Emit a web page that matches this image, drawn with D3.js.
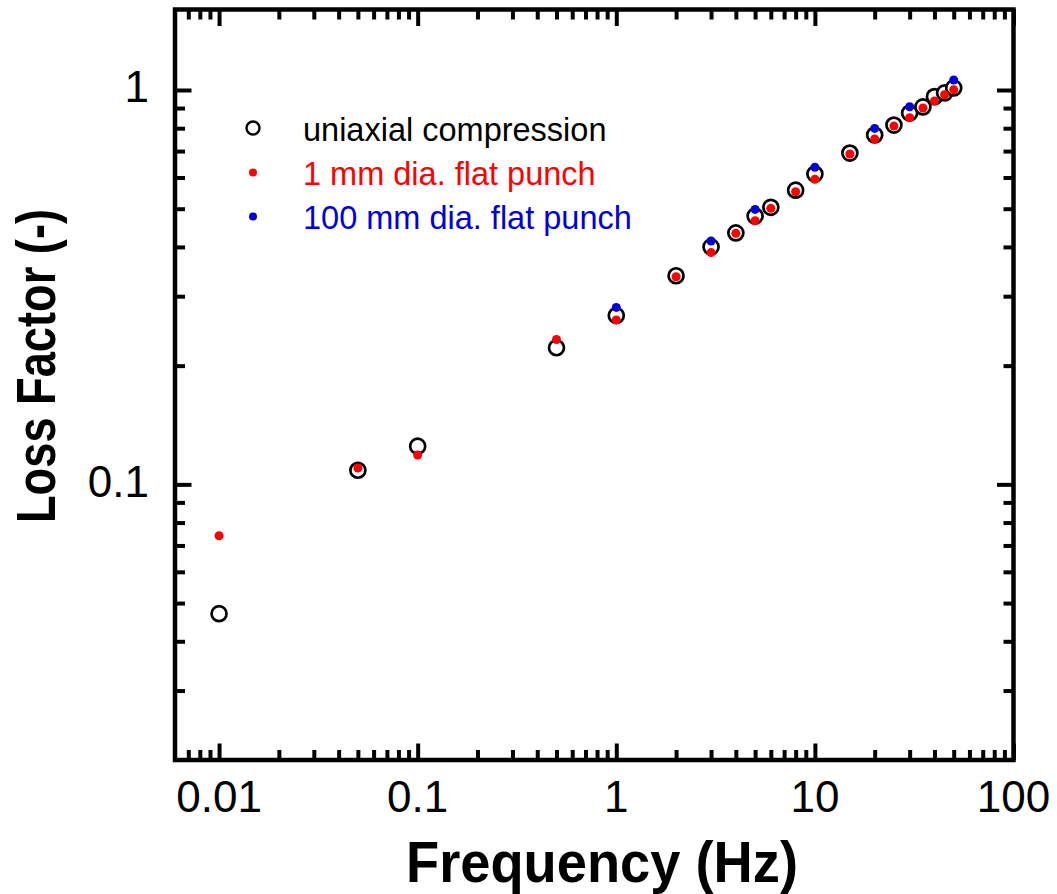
<!DOCTYPE html>
<html><head><meta charset="utf-8">
<script src="https://cdn.jsdelivr.net/npm/d3@7"></script>
<style>
body{margin:0;background:#fff}
svg{display:block}
text{font-family:"Liberation Sans",Arial,Helvetica,sans-serif}
</style>
</head><body>
<svg id="c" width="1057" height="894"></svg>
<script>
// ---- data ----
const freq      = [0.01,0.05,0.1,0.5,1,2,3,4,5,6,8,10,15,20,25,30,35,40,45,50];
const uniaxial  = [0.0470,0.1086,0.125,0.222,0.268,0.338,0.400,0.434,0.479,0.504,0.557,0.612,0.692,0.769,0.815,0.874,0.906,0.962,0.983,1.012];
const punch1mm  = [0.0741,0.110,0.1187,0.233,0.261,0.336,0.387,0.433,0.466,0.501,0.552,0.594,0.688,0.751,0.810,0.851,0.900,0.938,0.973,1.002];
const freqBlue  = [1,3,5,10,20,30,50];
const punch100mm= [0.281,0.414,0.498,0.637,0.799,0.907,1.06];
const xMajor = [0.01,0.1,1,10,100];
const xMajorLabels = ["0.01","0.1","1","10","100"];
const yMajor = [0.1,1];
const yMajorLabels = ["0.1","1"];
const seriesNames = ["uniaxial compression","1 mm dia. flat punch","100 mm dia. flat punch"];
const xTitle = "Frequency (Hz)";
const yTitle = "Loss Factor (-)";

// ---- layout ----
const L=175, R=1013.5, T=9.5, B=760;
const svg = d3.select("#c");
const x = d3.scaleLog().domain([0.006,100]).range([L,R]);
const y = d3.scaleLog().domain([0.02,1.6]).range([B,T]);

const isMajor = (arr)=> v => arr.some(m=>Math.abs(Math.log10(m)-Math.log10(v))<1e-6);
const xMinor = x.ticks().filter(v=>!isMajor(xMajor)(v) && v>0.0061 && v<99);
const yMinor = y.ticks().filter(v=>!isMajor(yMajor)(v) && v>0.021 && v<1.59);

function styleAxis(g){
  g.select(".domain").remove();
  g.selectAll(".tick line").attr("stroke","#000").attr("stroke-width",4);
}
const MJ=16.5, MN=10;
svg.append("g").attr("transform",`translate(0,${B})`).call(d3.axisBottom(x).tickValues(xMajor).tickSize(-MJ).tickFormat("")).call(styleAxis);
svg.append("g").attr("transform",`translate(0,${B})`).call(d3.axisBottom(x).tickValues(xMinor).tickSize(-MN).tickFormat("")).call(styleAxis);
svg.append("g").attr("transform",`translate(0,${T})`).call(d3.axisTop(x).tickValues(xMajor).tickSize(-MJ).tickFormat("")).call(styleAxis);
svg.append("g").attr("transform",`translate(0,${T})`).call(d3.axisTop(x).tickValues(xMinor).tickSize(-MN).tickFormat("")).call(styleAxis);
svg.append("g").attr("transform",`translate(${L},0)`).call(d3.axisLeft(y).tickValues(yMajor).tickSize(-MJ).tickFormat("")).call(styleAxis);
svg.append("g").attr("transform",`translate(${L},0)`).call(d3.axisLeft(y).tickValues(yMinor).tickSize(-MN).tickFormat("")).call(styleAxis);
svg.append("g").attr("transform",`translate(${R},0)`).call(d3.axisRight(y).tickValues(yMajor).tickSize(-MJ).tickFormat("")).call(styleAxis);
svg.append("g").attr("transform",`translate(${R},0)`).call(d3.axisRight(y).tickValues(yMinor).tickSize(-MN).tickFormat("")).call(styleAxis);

// tick labels
svg.append("g").selectAll("text").data(xMajor).join("text")
  .attr("x",d=>x(d)).attr("y",812).attr("text-anchor","middle")
  .attr("font-size",44).attr("fill","#000").text((d,i)=>xMajorLabels[i]);
svg.append("g").selectAll("text").data(yMajor).join("text")
  .attr("x",149).attr("y",d=>y(d)+12.5).attr("text-anchor","end")
  .attr("font-size",44).attr("fill","#000").text((d,i)=>yMajorLabels[i]);

// axis titles
svg.append("text").attr("x",602).attr("y",882).attr("text-anchor","middle")
  .attr("font-size",57).attr("font-weight","bold").attr("fill","#000")
  .attr("textLength",392).attr("lengthAdjust","spacingAndGlyphs").text(xTitle);
svg.append("text").attr("transform","translate(55,366) rotate(-90)").attr("text-anchor","middle")
  .attr("font-size",56).attr("font-weight","bold").attr("fill","#000")
  .attr("textLength",314).attr("lengthAdjust","spacingAndGlyphs").text(yTitle);

// data
const blueData = freqBlue.map((f,i)=>({f,v:punch100mm[i]}));
const uniData = freq.map((f,i)=>({f,v:uniaxial[i]}));
const redData = freq.map((f,i)=>({f,v:punch1mm[i]}));
const colors = ["#000","#ff0000","#0000dd"];

svg.append("g").selectAll("circle").data(uniData).join("circle")
  .attr("cx",d=>x(d.f)).attr("cy",d=>y(d.v)).attr("r",7.5).attr("fill","#fff")
  .attr("stroke","#000").attr("stroke-width",2.7);
svg.append("g").selectAll("circle").data(blueData).join("circle")
  .attr("cx",d=>x(d.f)).attr("cy",d=>y(d.v)).attr("r",4.5).attr("fill",colors[2]);
svg.append("g").selectAll("circle").data(redData).join("circle")
  .attr("cx",d=>x(d.f)).attr("cy",d=>y(d.v)).attr("r",4.5).attr("fill",colors[1]);

// frame
svg.append("rect").attr("x",L).attr("y",T).attr("width",R-L).attr("height",B-T)
  .attr("fill","none").attr("stroke","#000").attr("stroke-width",4.5);

// legend
const lg = svg.append("g");
const ly = [128,172.5,216.5];
seriesNames.forEach((name,i)=>{
  if(i===0){
    lg.append("circle").attr("cx",253).attr("cy",ly[i]).attr("r",6.5)
      .attr("fill","none").attr("stroke","#000").attr("stroke-width",2.4);
  } else {
    lg.append("circle").attr("cx",253).attr("cy",ly[i]).attr("r",4).attr("fill",colors[i]);
  }
  lg.append("text").attr("x",303).attr("y",ly[i]+12.5).attr("font-size",32.5)
    .attr("fill",colors[i]).text(name);
});
</script>
</body></html>
